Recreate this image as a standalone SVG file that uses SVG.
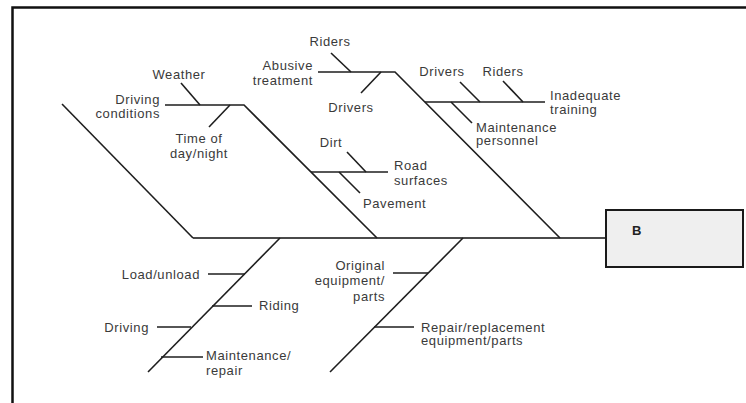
<svg xmlns="http://www.w3.org/2000/svg" width="746" height="403" viewBox="0 0 746 403">
<style>
text{font-family:"Liberation Sans",Arial,sans-serif;font-size:13px;letter-spacing:0.6px;fill:#3a3a3a}
.e{text-anchor:end}.m{text-anchor:middle}
.ln{stroke:#1e1e1e;stroke-width:1.6;fill:none;stroke-linecap:butt}
.sp{stroke:#4a4a4a;stroke-width:2.2}
</style>
<rect x="0" y="0" width="746" height="403" fill="#fff"/>
<rect x="12.5" y="7.5" width="800" height="500" fill="none" stroke="#111" stroke-width="2.5"/>
<g id="connectors" class="ln">
<line class="sp" x1="193" y1="238" x2="606" y2="238"/>
<polyline points="62,104 193,238"/>
<polyline points="165,105 244,105 377,238"/>
<line x1="181" y1="83" x2="200" y2="105"/>
<line x1="230" y1="105" x2="209" y2="127"/>
<polyline points="318,72 395,72 560,238"/>
<line x1="331" y1="53" x2="351" y2="72"/>
<line x1="381" y1="72" x2="361" y2="93"/>
<line x1="425" y1="102" x2="545" y2="102"/>
<line x1="460" y1="82" x2="480" y2="102"/>
<line x1="503" y1="81" x2="523" y2="102"/>
<line x1="451" y1="102" x2="472" y2="123"/>
<line x1="311" y1="172" x2="388" y2="172"/>
<line x1="347" y1="152" x2="366" y2="172"/>
<line x1="339" y1="172" x2="360" y2="193"/>
<line x1="280" y1="238" x2="148" y2="372"/>
<line x1="208" y1="274" x2="245" y2="274"/>
<line x1="212" y1="306" x2="252" y2="306"/>
<line x1="157" y1="327" x2="191" y2="327"/>
<line x1="161" y1="357" x2="203" y2="357"/>
<line x1="463" y1="238" x2="330" y2="372"/>
<line x1="393" y1="273" x2="428" y2="273"/>
<line x1="374" y1="327" x2="414" y2="327"/>
</g>
<g id="effect-B">
<rect x="606" y="210" width="137" height="57" fill="#efefef" stroke="#1a1a1a" stroke-width="2"/>
<text x="632" y="235" style="font-weight:bold;fill:#222;letter-spacing:0">B</text>
</g>
<g id="weather"><text class="m" x="179" y="78.5">Weather</text></g>
<g id="driving-conditions"><text class="e" x="160" y="103.5">Driving</text><text class="e" x="160" y="117.5">conditions</text></g>
<g id="time-of-day"><text class="m" x="199" y="142.5">Time of</text><text class="m" x="199" y="157.5">day/night</text></g>
<g id="riders-1"><text class="m" x="330" y="45.5">Riders</text></g>
<g id="abusive-treatment"><text class="e" x="313" y="69.5">Abusive</text><text class="e" x="313" y="84.5">treatment</text></g>
<g id="drivers-1"><text class="m" x="351" y="111.5">Drivers</text></g>
<g id="drivers-2"><text class="m" x="442" y="75.5">Drivers</text></g>
<g id="riders-2"><text class="m" x="503" y="75.5">Riders</text></g>
<g id="inadequate-training"><text x="550" y="100">Inadequate</text><text x="550" y="114">training</text></g>
<g id="maintenance-personnel"><text x="476" y="131.5">Maintenance</text><text x="476" y="145">personnel</text></g>
<g id="dirt"><text class="m" x="331" y="146.5">Dirt</text></g>
<g id="road-surfaces"><text x="394" y="169.5">Road</text><text x="394" y="184.5">surfaces</text></g>
<g id="pavement"><text x="363" y="207.5">Pavement</text></g>
<g id="load-unload"><text class="e" x="200" y="278.5">Load/unload</text></g>
<g id="riding"><text x="259" y="309.5">Riding</text></g>
<g id="driving"><text class="e" x="149" y="331.5">Driving</text></g>
<g id="maintenance-repair"><text x="206" y="359.5">Maintenance/</text><text x="206" y="375">repair</text></g>
<g id="original-equipment"><text class="e" x="385" y="269.5">Original</text><text class="e" x="385" y="285">equipment/</text><text class="e" x="385" y="300.5">parts</text></g>
<g id="repair-replacement"><text x="421" y="331.5">Repair/replacement</text><text x="421" y="345">equipment/parts</text></g>
</svg>
